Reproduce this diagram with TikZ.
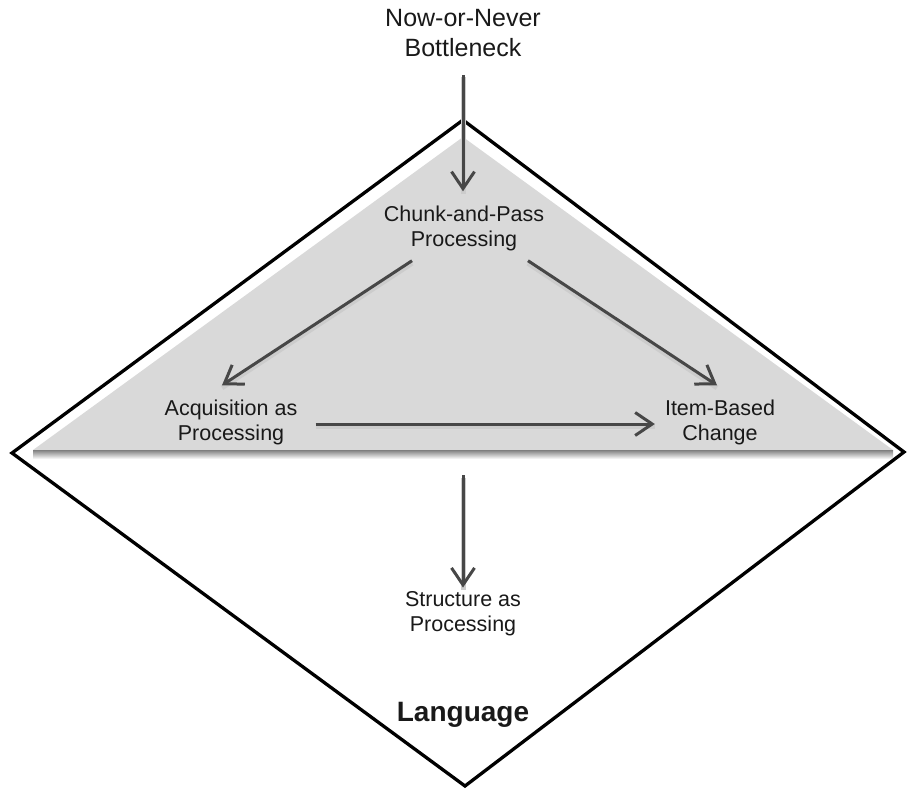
\documentclass[tikz,border=0pt]{standalone}
\usepackage{fontspec}
\setmainfont{Liberation Sans}
\usetikzlibrary{arrows.meta}
\begin{document}
\begin{tikzpicture}[x=1pt,y=-1pt,
        lbl/.style={align=center,text=black!90,inner sep=2pt,font=\fontsize{21.5}{25}\selectfont},
        arr/.style={-{Straight Barb[length=17pt,width=23pt]},line width=3pt,draw=black!72,
            preaction={draw=black!20,line width=5pt,transform canvas={yshift=-2.5pt},-{}}}]
        \useasboundingbox(0,0)rectangle(907,789);
        % diamond and shaded upper part
        \coordinate(top)at(463,120);\coordinate(right)at(904,452);
        \coordinate(bottom)at(465,786);\coordinate(left)at(12,453);
        \fill[black!15](463,137)--(893,450)--(33,450)--cycle;
        \shade[top color=black!50,bottom color=white](33,450)rectangle(893,459);
        \draw[line width=3.3pt,line join=miter](top)--(right)--(bottom)--(left)--cycle;
        \coordinate(base)at(463,450);
        % labels
        \node[lbl,font=\fontsize{25}{30}\selectfont](neck)at(463,33){Now-or-Never\\Bottleneck};
        \node[lbl](chunk)at(464,228){Chunk-and-Pass\\Processing};
        \node[lbl](acq)at(231,422){Acquisition as\\Processing};
        \node[lbl](item)at(720,422){Item-Based\\Change};
        \node[lbl](struct)at(463,614){Structure as\\Processing};
        \node[text=black!90,font=\fontsize{28}{30}\selectfont\bfseries](lang)at(463,715){Language};
        % arrows
        \draw[arr,shorten <=16pt,shorten >=12pt](neck.south)--(neck.south|-chunk.north);
        \draw[arr]([xshift=-52pt,yshift=-8pt]chunk.south)--([xshift=-9pt,yshift=12pt]acq.north);
        \draw[arr]([xshift=64pt,yshift=-8pt]chunk.south)--([xshift=-3pt,yshift=12pt]item.north);
        \draw[arr,shorten <=16pt,shorten >=8pt]([yshift=-2pt]acq.east)--([yshift=-2pt]item.west);
        \draw[arr,shorten <=25pt,shorten >=2pt](base)--(struct.north);
\end{tikzpicture}
\end{document}
